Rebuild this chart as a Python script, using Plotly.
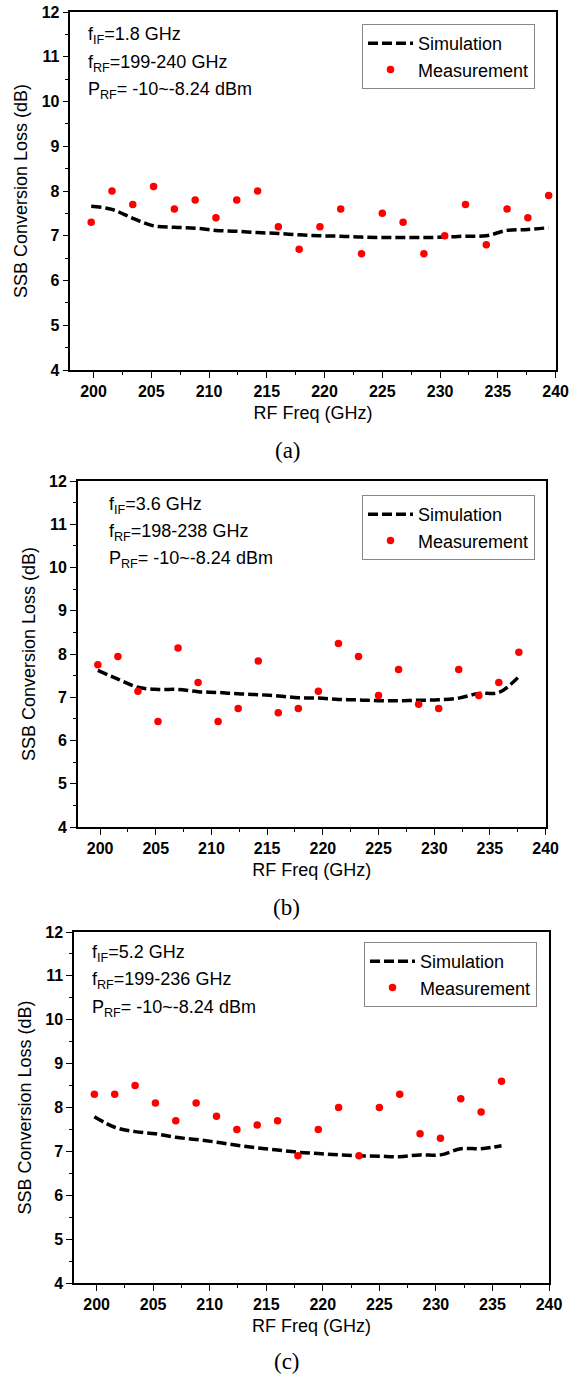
import plotly.graph_objects as go

W, H = 578, 1374

# ---------------- data ----------------
freq_a = [199.8, 201.6, 203.4, 205.2, 207.0, 208.8, 210.6, 212.4, 214.2, 216.0, 217.8, 219.6,
          221.4, 223.2, 225.0, 226.8, 228.6, 230.4, 232.2, 234.0, 235.8, 237.6, 239.4]
meas_a = [7.3, 8.0, 7.7, 8.1, 7.6, 7.8, 7.4, 7.8, 8.0, 7.2, 6.7, 7.2,
          7.6, 6.6, 7.5, 7.3, 6.6, 7.0, 7.7, 6.8, 7.6, 7.4, 7.9]
sim_a = [7.66, 7.59, 7.39, 7.22, 7.19, 7.17, 7.12, 7.10, 7.07, 7.05, 7.02, 7.00,
         6.99, 6.97, 6.96, 6.96, 6.96, 6.97, 6.99, 7.00, 7.12, 7.14, 7.18]

freq_b = [199.8, 201.6, 203.4, 205.2, 207.0, 208.8, 210.6, 212.4, 214.2, 216.0, 217.8, 219.6,
          221.4, 223.2, 225.0, 226.8, 228.6, 230.4, 232.2, 234.0, 235.8, 237.6]
meas_b = [7.75, 7.94, 7.14, 6.44, 8.14, 7.34, 6.44, 6.74, 7.84, 6.64, 6.74, 7.14,
          8.24, 7.94, 7.04, 7.64, 6.84, 6.74, 7.64, 7.04, 7.34, 8.04]
sim_b = [7.62, 7.42, 7.23, 7.18, 7.18, 7.13, 7.11, 7.08, 7.06, 7.03, 6.99, 6.98,
         6.95, 6.94, 6.92, 6.92, 6.93, 6.94, 6.98, 7.09, 7.11, 7.48]

freq_c = [199.8, 201.6, 203.4, 205.2, 207.0, 208.8, 210.6, 212.4, 214.2, 216.0, 217.8, 219.6,
          221.4, 223.2, 225.0, 226.8, 228.6, 230.4, 232.2, 234.0, 235.8]
meas_c = [8.3, 8.3, 8.5, 8.1, 7.7, 8.1, 7.8, 7.5, 7.6, 7.7, 6.9, 7.5,
          8.0, 6.9, 8.0, 8.3, 7.4, 7.3, 8.2, 7.9, 8.6]
sim_c = [7.79, 7.55, 7.45, 7.40, 7.32, 7.27, 7.21, 7.14, 7.08, 7.03, 6.98, 6.95,
         6.92, 6.90, 6.89, 6.88, 6.92, 6.92, 7.06, 7.06, 7.13]

x_ticks = [200, 205, 210, 215, 220, 225, 230, 235, 240]
y_ticks = [4, 5, 6, 7, 8, 9, 10, 11, 12]
panel_labels = ["(a)", "(b)", "(c)"]
info_lines = [
    ["f<sub>IF</sub>=1.8 GHz", "f<sub>RF</sub>=199-240 GHz", "P<sub>RF</sub>= -10~-8.24 dBm"],
    ["f<sub>IF</sub>=3.6 GHz", "f<sub>RF</sub>=198-238 GHz", "P<sub>RF</sub>= -10~-8.24 dBm"],
    ["f<sub>IF</sub>=5.2 GHz", "f<sub>RF</sub>=199-236 GHz", "P<sub>RF</sub>= -10~-8.24 dBm"],
]
x_title = "RF Freq (GHz)"
y_title = "SSB Conversion Loss (dB)"

# ---------------- layout geometry (pixels) ----------------
panels = [
    dict(l=70.4, r=555.6, t=12, b=370, lab_y=450, info_x=86, info_y=[35, 63, 91],
         leg=(362, 24)),
    dict(l=77.8, r=545.6, t=481, b=827, lab_y=907, info_x=107, info_y=[505, 532, 559],
         leg=(362, 495)),
    dict(l=74.0, r=549.0, t=932, b=1283, lab_y=1361, info_x=90, info_y=[953, 980, 1008],
         leg=(364, 942)),
]

SANS = "Arial, Liberation Sans, sans-serif"
fig = go.Figure()
series = [(freq_a, sim_a, meas_a), (freq_b, sim_b, meas_b), (freq_c, sim_c, meas_c)]
annotations = []
layout = {}
for i, (p, (fx, sim, meas)) in enumerate(zip(panels, series)):
    n = "" if i == 0 else str(i + 1)
    xa, ya = "x" + n, "y" + n
    lg = "legend" + n
    fig.add_trace(go.Scatter(x=fx, y=sim, mode="lines", name="Simulation",
                             line=dict(color="black", width=3.5, dash="10px,4px", shape="spline"),
                             xaxis=xa, yaxis=ya, legend=lg))
    fig.add_trace(go.Scatter(x=fx, y=meas, mode="markers", name="Measurement",
                             marker=dict(color="#ff0000", size=7.5),
                             xaxis=xa, yaxis=ya, legend=lg))
    axcommon = dict(showline=True, linecolor="black", linewidth=1.5, mirror=True,
                    ticks="outside", ticklen=6, tickwidth=1.3, tickcolor="black",
                    showgrid=False, zeroline=False,
                    tickfont=dict(family=SANS, size=16, color="black"),
                    automargin=False)
    layout["xaxis" + n] = dict(axcommon, domain=[p["l"] / W, p["r"] / W], anchor=ya,
                               range=[198, 240], tickmode="array", tickvals=x_ticks,
                               ticktext=["<b>%d</b>" % v for v in x_ticks],
                               minor=dict(ticks="outside", ticklen=3.5, dtick=2.5, tick0=200,
                                          tickcolor="black", tickwidth=1.2),
                               title=dict(text=x_title, standoff=7,
                                          font=dict(family=SANS, size=18, color="black")))
    layout["yaxis" + n] = dict(axcommon, domain=[1 - p["b"] / H, 1 - p["t"] / H], anchor=xa,
                               range=[4, 12], tickmode="array", tickvals=y_ticks,
                               ticktext=["<b>%d</b>" % v for v in y_ticks],
                               minor=dict(ticks="outside", ticklen=3.5, dtick=0.5, tick0=4,
                                          tickcolor="black", tickwidth=1.2),
                               title=dict(text=y_title, standoff=9,
                                          font=dict(family=SANS, size=18, color="black")))
    layout[lg] = dict(x=p["leg"][0] / W, y=1 - p["leg"][1] / H, xanchor="left", yanchor="top",
                      bgcolor="white", bordercolor="#888888", borderwidth=1,
                      font=dict(family=SANS, size=18, color="black"),
                      tracegroupgap=0, itemwidth=45)
    for txt, yy in zip(info_lines[i], p["info_y"]):
        annotations.append(dict(text=txt, x=p["info_x"] / W, y=1 - yy / H, xref="paper", yref="paper",
                                xanchor="left", yanchor="middle", showarrow=False,
                                font=dict(family=SANS, size=18, color="black")))
    annotations.append(dict(text=panel_labels[i], x=((p["l"] + p["r"]) / 2 - 25) / W, y=1 - p["lab_y"] / H,
                            xref="paper", yref="paper", xanchor="center", yanchor="middle",
                            showarrow=False,
                            font=dict(family="Times New Roman, Liberation Serif, serif", size=23,
                                      color="black")))

fig.update_layout(width=W, height=H, margin=dict(l=0, r=0, t=0, b=0),
                  paper_bgcolor="white", plot_bgcolor="white", showlegend=True,
                  annotations=annotations, **layout)
fig.write_html("out.html", config={"displayModeBar": False},
               post_script="document.body.style.margin='0px';document.body.style.overflow='hidden';")
